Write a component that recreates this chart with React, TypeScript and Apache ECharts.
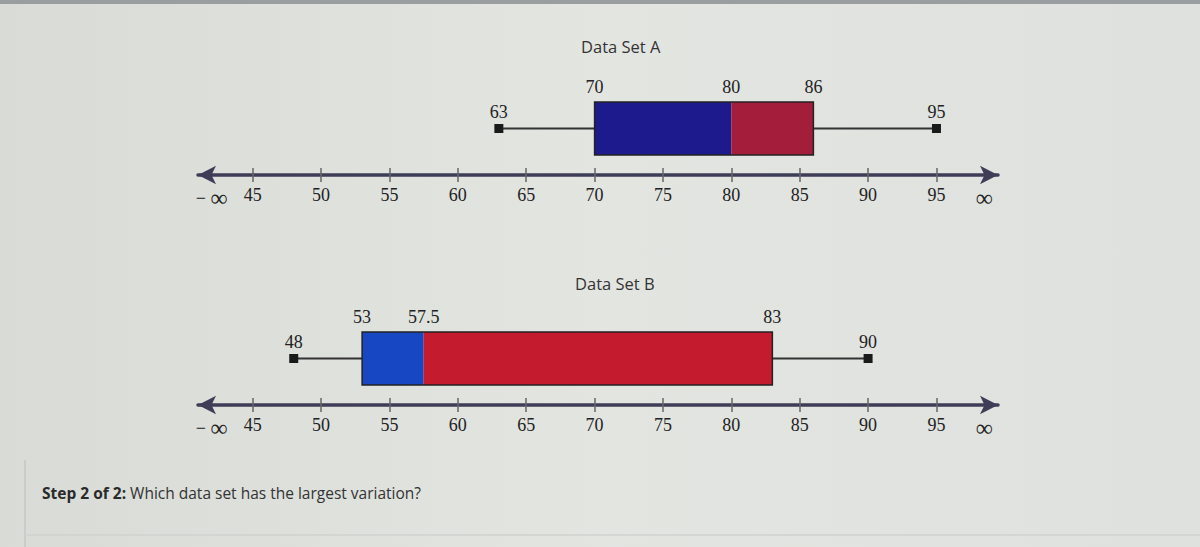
import React, { useEffect, useRef } from "react";
import * as echarts from "echarts";

const categories = ["Data Set A", "Data Set B"];
const minVals = [63, 48];
const q1Vals = [70, 53];
const medianVals = [80, 57.5];
const q3Vals = [86, 83];
const maxVals = [95, 90];
const tickValues = [45, 50, 55, 60, 65, 70, 75, 80, 85, 90, 95];
const negInf = 42;
const posInf = 98.5;
const lowColors = ["#1d1a8e", "#1747c2"];
const highColors = ["#a41d3b", "#c41b2e"];

const SERIF = '"Liberation Serif", "DejaVu Serif", serif';
const SANS = '"Open Sans", "Noto Sans", sans-serif';

function makeRenderItem(idx: number) {
  return (params: any, api: any) => {
    const lo = api.value(0), q1 = api.value(1), med = api.value(2), q3 = api.value(3), hi = api.value(4);
    const yAxis = api.coord([q1, 0])[1];
    const boxTop = yAxis - 73;
    const boxBottom = yAxis - 20;
    const mid = (boxTop + boxBottom) / 2;
    const xLo = api.coord([lo, 0])[0];
    const xQ1 = api.coord([q1, 0])[0];
    const xMed = api.coord([med, 0])[0];
    const xQ3 = api.coord([q3, 0])[0];
    const xHi = api.coord([hi, 0])[0];
    const font = '18px ' + SERIF;
    const lbl = (x: number, y: number, t: any) => ({
      type: "text",
      style: { x, y, text: String(t), font, fill: "#222", align: "center", verticalAlign: "bottom" },
    });
    return {
      type: "group",
      children: [
        { type: "line", shape: { x1: xLo, y1: mid, x2: xQ1, y2: mid }, style: { stroke: "#333", lineWidth: 2 } },
        { type: "line", shape: { x1: xQ3, y1: mid, x2: xHi, y2: mid }, style: { stroke: "#333", lineWidth: 2 } },
        { type: "rect", shape: { x: xQ1, y: boxTop, width: xMed - xQ1, height: boxBottom - boxTop }, style: { fill: lowColors[idx] } },
        { type: "rect", shape: { x: xMed, y: boxTop, width: xQ3 - xMed, height: boxBottom - boxTop }, style: { fill: highColors[idx] } },
        { type: "rect", shape: { x: xQ1, y: boxTop, width: xQ3 - xQ1, height: boxBottom - boxTop }, style: { fill: "none", stroke: "#222", lineWidth: 1.5 } },
        { type: "rect", shape: { x: xLo - 4.5, y: mid - 4.5, width: 9, height: 9 }, style: { fill: "#1a1a1a" } },
        { type: "rect", shape: { x: xHi - 4.5, y: mid - 4.5, width: 9, height: 9 }, style: { fill: "#1a1a1a" } },
        lbl(xQ1, boxTop - 6, q1),
        lbl(xMed, boxTop - 6, med),
        lbl(xQ3, boxTop - 6, q3),
        lbl(xLo, mid - 8, lo),
        lbl(xHi, mid - 8, hi),
      ],
    };
  };
}

export default function App() {
  const ref = useRef<HTMLDivElement>(null);
  useEffect(() => {
    if (!ref.current) return;
    const chart = echarts.init(ref.current, null, { renderer: "svg" });
    const grids = [
      { left: 198, width: 800, top: 60, height: 115 },
      { left: 198, width: 800, top: 290, height: 115 },
    ];
    const xAxes: any[] = [];
    const yAxes: any[] = [];
    grids.forEach((g, i) => {
      xAxes.push({
        type: "value",
        gridIndex: i,
        min: 41,
        max: 99.5,
        position: "bottom",
        splitLine: { show: false },
        axisLine: {
          show: true,
          symbol: ["arrow", "arrow"],
          symbolSize: [14, 18],
          lineStyle: { color: "#3e3d58", width: 3.5 },
        },
        axisTick: {
          show: true,
          customValues: tickValues,
          length: 7,
          lineStyle: { color: "#666", width: 1.5 },
        },
        axisLabel: {
          show: true,
          customValues: [negInf, ...tickValues, posInf],
          margin: 11,
          color: "#222",
          fontFamily: SERIF,
          fontSize: 18,
          formatter: (v: number) => (v === negInf ? "− {inf|∞}" : v === posInf ? "{inf|∞}" : String(v)),
          rich: {
            inf: { fontFamily: SERIF, fontSize: 24, color: "#222" },
          },
        },
      });
      xAxes.push({
        type: "value",
        gridIndex: i,
        min: 41,
        max: 99.5,
        position: "bottom",
        splitLine: { show: false },
        axisLine: { show: false },
        axisTick: {
          show: true,
          inside: true,
          customValues: tickValues,
          length: 7,
          lineStyle: { color: "#666", width: 1.5 },
        },
        axisLabel: { show: false },
      });
      yAxes.push({ type: "value", gridIndex: i, min: 0, max: 1, show: false });
    });
    chart.setOption({
      animation: false,
      backgroundColor: {
        type: "linear", x: 0, y: 0, x2: 1, y2: 0,
        colorStops: [
          { offset: 0, color: "#d8dbd6" },
          { offset: 0.5, color: "#e3e5e1" },
          { offset: 1, color: "#dee1dd" },
        ],
      },
      title: [
        { text: categories[0], left: 576, top: 33, textStyle: { fontFamily: SANS, fontSize: 16.5, fontWeight: "normal", color: "#333" } },
        { text: categories[1], left: 570, top: 270, textStyle: { fontFamily: SANS, fontSize: 16.5, fontWeight: "normal", color: "#333" } },
      ],
      grid: grids,
      xAxis: xAxes,
      yAxis: yAxes,
      graphic: [
        { type: "rect", left: 0, top: 0, shape: { width: 1200, height: 4 }, style: { fill: "#9a9ea0" } },
        { type: "line", shape: { x1: 25, y1: 460, x2: 25, y2: 547 }, style: { stroke: "#c9ccc8", lineWidth: 2 } },
        { type: "line", shape: { x1: 25, y1: 535, x2: 1200, y2: 535 }, style: { stroke: "#cfd2ce", lineWidth: 1.5 } },
        {
          type: "text",
          x: 42,
          y: 493,
          style: {
            text: "{b|Step 2 of 2:} Which data set has the largest variation?",
            verticalAlign: "middle",
            font: "15.5px " + SANS,
            fill: "#333",
            rich: {
              b: { fontWeight: "bold", fontFamily: SANS, fontSize: 15.5, fill: "#2a2a2a" },
            },
          },
        },
      ],
      series: [0, 1].map((i) => ({
        type: "custom",
        name: categories[i],
        xAxisIndex: i * 2,
        yAxisIndex: i,
        clip: false,
        renderItem: makeRenderItem(i),
        encode: { x: [0, 1, 2, 3, 4] },
        data: [[minVals[i], q1Vals[i], medianVals[i], q3Vals[i], maxVals[i]]],
      })),
    });
    return () => chart.dispose();
  }, []);
  return <div ref={ref} style={{ position: "fixed", left: 0, top: 0, width: 1200, height: 547 }} />;
}
